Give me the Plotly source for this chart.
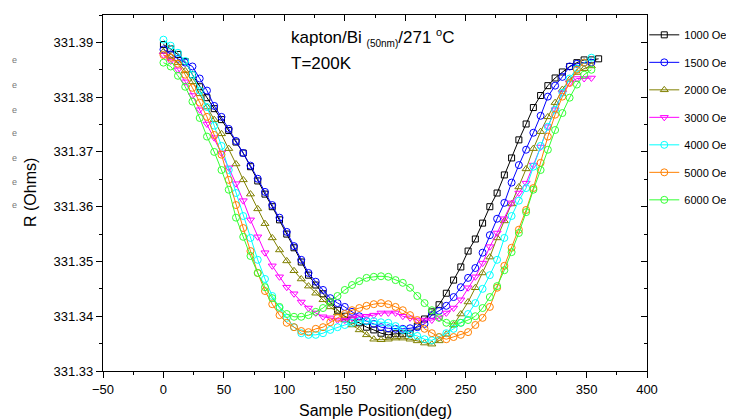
import plotly.graph_objects as go

# Sample positions (deg)
positions = [0, 6, 12, 18, 24, 30, 36, 42, 48, 54, 60, 66, 72, 78, 84, 90, 96, 102, 108, 114,
             120, 126, 132, 138, 144, 150, 156, 162, 168, 174, 180, 186, 192, 198, 204, 210, 216,
             222, 228, 234, 240, 246, 252, 258, 264, 270, 276, 282, 288, 294, 300, 306, 312, 318,
             324, 330, 336, 342, 348, 354, 360]

r_1000 = [331.3896, 331.3888, 331.3878, 331.3865, 331.3841, 331.3819, 331.3799, 331.3779, 331.3759,
          331.3739, 331.3718, 331.3698, 331.3673, 331.3647, 331.3623, 331.3600, 331.3576, 331.3550,
          331.3525, 331.3499, 331.3475, 331.3457, 331.3441, 331.3426, 331.3411, 331.3400, 331.3393,
          331.3388, 331.3380, 331.3375, 331.3369, 331.3366, 331.3368, 331.3368, 331.3369, 331.3382,
          331.3395, 331.3408, 331.3421, 331.3442, 331.3466, 331.3490, 331.3519, 331.3541, 331.3570,
          331.3600, 331.3625, 331.3658, 331.3689, 331.3722, 331.3751, 331.3781, 331.3803, 331.3821,
          331.3835, 331.3846, 331.3856, 331.3863, 331.3868, 331.3868, 331.3870]

r_1500 = [331.3887, 331.3878, 331.3870, 331.3863, 331.3856, 331.3834, 331.3812, 331.3784, 331.3764,
          331.3742, 331.3720, 331.3698, 331.3675, 331.3651, 331.3627, 331.3603, 331.3580, 331.3554,
          331.3528, 331.3503, 331.3479, 331.3463, 331.3448, 331.3433, 331.3424, 331.3417, 331.3408,
          331.3400, 331.3391, 331.3386, 331.3380, 331.3378, 331.3377, 331.3377, 331.3378, 331.3380,
          331.3386, 331.3402, 331.3410, 331.3419, 331.3435, 331.3453, 331.3470, 331.3488, 331.3516,
          331.3548, 331.3578, 331.3607, 331.3644, 331.3676, 331.3704, 331.3735, 331.3766, 331.3801,
          331.3821, 331.3837, 331.3856, 331.3861, 331.3863, 331.3863]

r_2000 = [331.3883, 331.3874, 331.3863, 331.3848, 331.3828, 331.3806, 331.3782, 331.3759, 331.3733,
          331.3706, 331.3678, 331.3649, 331.3623, 331.3596, 331.3569, 331.3543, 331.3521, 331.3501,
          331.3483, 331.3468, 331.3455, 331.3442, 331.3430, 331.3417, 331.3406, 331.3393, 331.3384,
          331.3375, 331.3366, 331.3358, 331.3357, 331.3358, 331.3360, 331.3360, 331.3358, 331.3355,
          331.3351, 331.3349, 331.3355, 331.3367, 331.3384, 331.3404, 331.3426, 331.3452, 331.3479,
          331.3508, 331.3543, 331.3574, 331.3605, 331.3636, 331.3669, 331.3706, 331.3737, 331.3764,
          331.3790, 331.3814, 331.3832, 331.3845, 331.3852, 331.3857]

r_3000 = [331.3877, 331.3866, 331.3850, 331.3828, 331.3803, 331.3777, 331.3751, 331.3726, 331.3698,
          331.3671, 331.3642, 331.3611, 331.3576, 331.3545, 331.3516, 331.3492, 331.3472, 331.3453,
          331.3441, 331.3426, 331.3415, 331.3406, 331.3399, 331.3397, 331.3393, 331.3393, 331.3397,
          331.3399, 331.3400, 331.3402, 331.3406, 331.3406, 331.3406, 331.3400, 331.3397, 331.3393,
          331.3393, 331.3393, 331.3397, 331.3406, 331.3415, 331.3430, 331.3452, 331.3472, 331.3497,
          331.3527, 331.3552, 331.3578, 331.3607, 331.3625, 331.3643, 331.3676, 331.3709, 331.3746,
          331.3777, 331.3808, 331.3826, 331.3834, 331.3834, 331.3835]

r_4000 = [331.3905, 331.3894, 331.3881, 331.3866, 331.3841, 331.3812, 331.3782, 331.3748, 331.3711,
          331.3667, 331.3625, 331.3583, 331.3543, 331.3503, 331.3468, 331.3437, 331.3415, 331.3397,
          331.3380, 331.3369, 331.3366, 331.3366, 331.3369, 331.3375, 331.3380, 331.3384, 331.3388,
          331.3391, 331.3391, 331.3391, 331.3389, 331.3388, 331.3382, 331.3375, 331.3367, 331.3364,
          331.3358, 331.3356, 331.3362, 331.3369, 331.3377, 331.3388, 331.3404, 331.3424, 331.3450,
          331.3475, 331.3503, 331.3543, 331.3583, 331.3611, 331.3634, 331.3673, 331.3711, 331.3746,
          331.3777, 331.3808, 331.3834, 331.3852, 331.3863, 331.3872]

r_5000 = [331.3877, 331.3872, 331.3861, 331.3841, 331.3817, 331.3790, 331.3764, 331.3731, 331.3695,
          331.3649, 331.3603, 331.3561, 331.3519, 331.3479, 331.3446, 331.3422, 331.3402, 331.3388,
          331.3380, 331.3373, 331.3371, 331.3377, 331.3380, 331.3389, 331.3397, 331.3404, 331.3411,
          331.3415, 331.3419, 331.3422, 331.3424, 331.3422, 331.3417, 331.3411, 331.3402, 331.3393,
          331.3377, 331.3369, 331.3362, 331.3358, 331.3362, 331.3366, 331.3371, 331.3384, 331.3397,
          331.3417, 331.3452, 331.3492, 331.3525, 331.3558, 331.3594, 331.3634, 331.3680, 331.3728,
          331.3768, 331.3801, 331.3826, 331.3850, 331.3863]

r_6000 = [331.3863, 331.3856, 331.3839, 331.3819, 331.3792, 331.3762, 331.3728, 331.3700, 331.3667,
          331.3631, 331.3580, 331.3545, 331.3510, 331.3479, 331.3453, 331.3433, 331.3417, 331.3404,
          331.3399, 331.3399, 331.3402, 331.3408, 331.3415, 331.3426, 331.3437, 331.3448, 331.3457,
          331.3464, 331.3470, 331.3472, 331.3473, 331.3472, 331.3466, 331.3461, 331.3452, 331.3437,
          331.3424, 331.3411, 331.3397, 331.3388, 331.3386, 331.3388, 331.3393, 331.3400, 331.3415,
          331.3435, 331.3455, 331.3484, 331.3517, 331.3552, 331.3590, 331.3631, 331.3667, 331.3704,
          331.3740, 331.3771, 331.3799, 331.3823, 331.3841, 331.3850]

series_names = ["1000 Oe", "1500 Oe", "2000 Oe", "3000 Oe", "4000 Oe", "5000 Oe", "6000 Oe"]
series_values = [r_1000, r_1500, r_2000, r_3000, r_4000, r_5000, r_6000]
series_colors = ["#000000", "#0000FF", "#808000", "#FF00FF", "#00FFFF", "#FF8000", "#33FF33"]
series_symbols = ["square-open", "circle-open", "triangle-up-open", "triangle-down-open",
                  "circle-open", "circle-open", "circle-open"]
series_sizes = [6, 7, 7, 7, 7, 7, 7]

FONT = "Liberation Sans, Arial, sans-serif"

fig = go.Figure()
for name, vals, color, sym, sz in zip(series_names, series_values, series_colors, series_symbols,
                                      series_sizes):
    fig.add_trace(go.Scatter(
        x=positions[:len(vals)], y=vals, mode="lines+markers", name=name, legendgroup=name,
        line=dict(color=color, width=1),
        marker=dict(symbol=sym, size=sz, color=color, line=dict(width=1, color=color)),
    ))

# invisible trace to anchor mirror axes
fig.add_trace(go.Scatter(x=[positions[0]], y=[r_1000[0]], xaxis="x2", yaxis="y2", mode="none",
                         showlegend=False, hoverinfo="skip"))

axis_common = dict(showgrid=False, zeroline=False, showline=True, linecolor="black", linewidth=1.2,
                   tickcolor="black", tickwidth=1.2)

# The page body adds an 8 px offset; plot area targeted at x 103..647, y 15..371 on screen.
OFF = 8
ML, MT = 103 - OFF, 15 - OFF
PW, PH = 544.0, 356.0
MR = 734 - ML - int(PW)
MB = 419 - MT - int(PH)

fig.update_layout(
    width=734, height=419,
    margin=dict(l=ML, r=MR, t=MT, b=MB, autoexpand=False),
    plot_bgcolor="white", paper_bgcolor="white",
    font=dict(family=FONT, color="black"),
    showlegend=True,
    legend=dict(x=0.995, xanchor="left", y=0.985, yanchor="top", font=dict(size=11, family=FONT),
                tracegroupgap=8.5, traceorder="grouped", bgcolor="rgba(0,0,0,0)", borderwidth=0,
                itemwidth=30),
    xaxis=dict(range=[-50, 400], dtick=50, tick0=0, ticks="outside", ticklen=6,
               tickfont=dict(size=13), minor=dict(dtick=25, ticks="outside", ticklen=3,
                                                  tickcolor="black", tickwidth=1.2),
               **axis_common),
    xaxis2=dict(overlaying="x", side="top", matches="x", range=[-50, 400], dtick=50, tick0=0,
                ticks="inside", ticklen=6, showticklabels=False,
                minor=dict(dtick=25, ticks="inside", ticklen=3, tickcolor="black", tickwidth=1.2),
                **axis_common),
    yaxis=dict(range=[331.33, 331.395], dtick=0.01, tick0=331.33, tickformat=".2f",
               ticks="outside", ticklen=6, tickfont=dict(size=13),
               minor=dict(dtick=0.005, ticks="outside", ticklen=3, tickcolor="black", tickwidth=1.2),
               **axis_common),
    yaxis2=dict(overlaying="y", side="right", matches="y", range=[331.33, 331.395], dtick=0.01,
                tick0=331.33, ticks="inside", ticklen=6, showticklabels=False,
                minor=dict(dtick=0.005, ticks="inside", ticklen=3, tickcolor="black", tickwidth=1.2),
                **axis_common),
)

PL, PB = 103.0, 371.0


def px(xp):
    return (xp - PL) / PW


def py(yp):
    return (PB - yp) / PH


annotations = [
    dict(text="kapton/Bi <sub><span style='font-size:10px'>(50nm)</span></sub>/271 <sup><span style='font-size:11px'>o</span></sup>C",
         x=px(289), y=py(38), xanchor="left", yanchor="middle", font=dict(size=17)),
    dict(text="T=200K", x=px(289), y=py(63), xanchor="left", yanchor="middle", font=dict(size=17)),
    dict(text="R (Ohms)", textangle=-90, x=px(30), y=py(193), xanchor="center", yanchor="middle",
         font=dict(size=16)),
    dict(text="Sample Position(deg)", x=px(375), y=py(410), xanchor="center", yanchor="middle",
         font=dict(size=16)),
]
for yy in [60, 85, 110, 133, 158, 182, 205]:
    annotations.append(dict(text="e", x=px(10), y=py(yy), xanchor="left", yanchor="middle",
                            font=dict(size=9, color="#777777")))
for a in annotations:
    a.update(xref="paper", yref="paper", showarrow=False)
fig.update_layout(annotations=annotations)

fig.write_html("out.html")
